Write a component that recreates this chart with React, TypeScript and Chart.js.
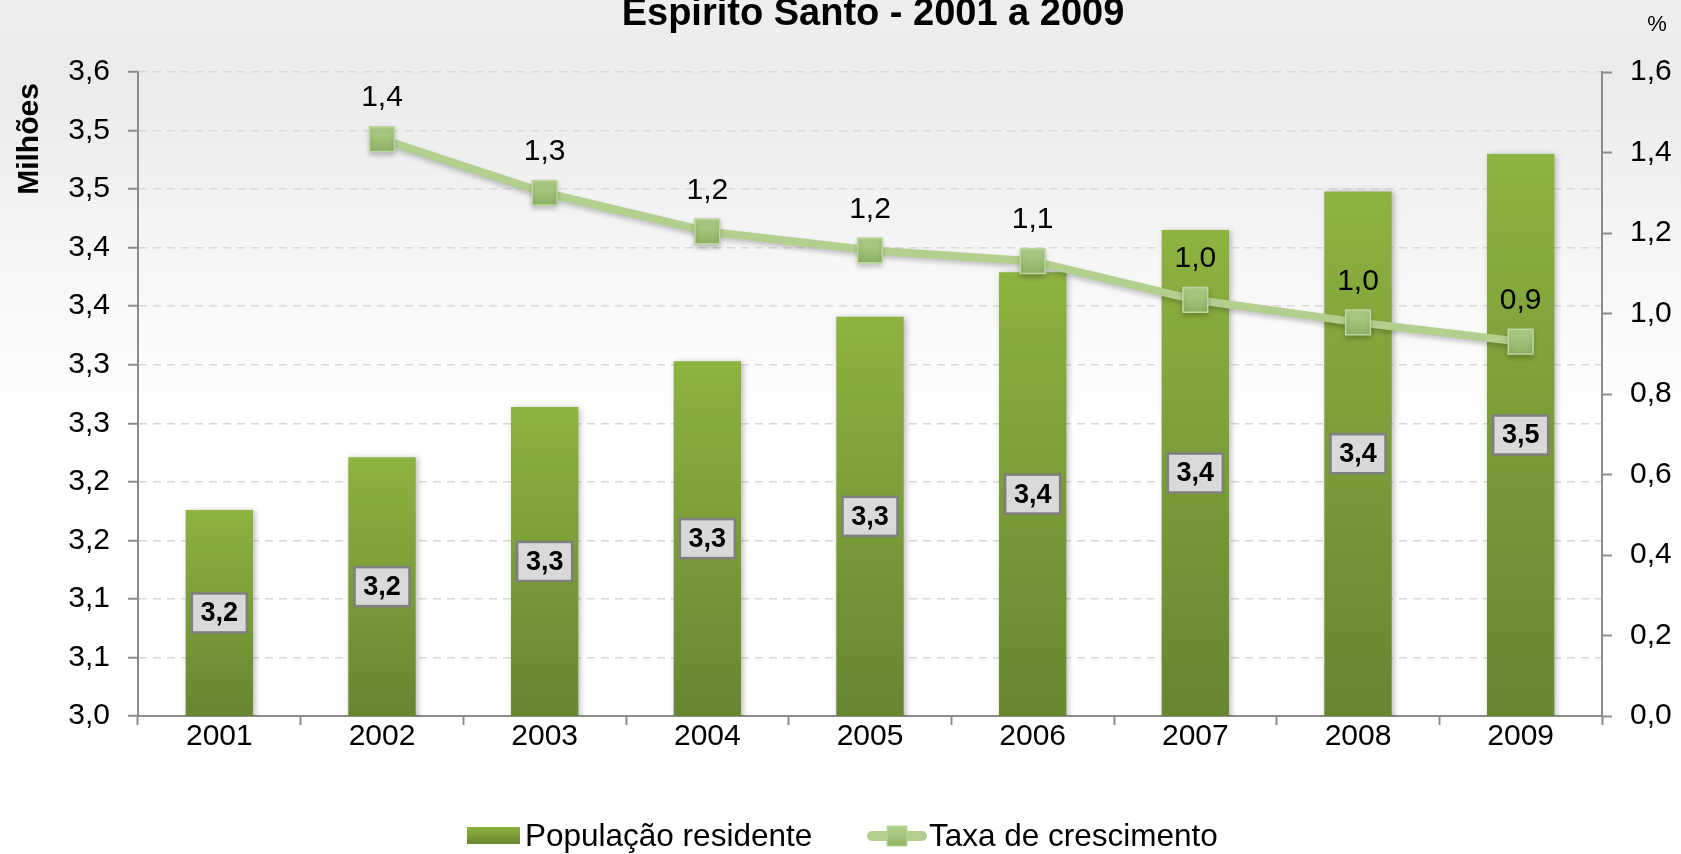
import React, { useEffect, useRef } from "react";
import { Chart, registerables } from "chart.js";

Chart.register(...registerables);

const FONT = '"Liberation Sans", Arial, Helvetica, sans-serif';

const chartTitle = "Espirito Santo - 2001 a 2009";
const leftAxisTitle = "Milhões";
const rightAxisTitle = "%";
const years = ["2001", "2002", "2003", "2004", "2005", "2006", "2007", "2008", "2009"];
const populationLabel = "População residente";
const population = [3.176, 3.221, 3.264, 3.303, 3.341, 3.379, 3.415, 3.448, 3.48];
const growthLabel = "Taxa de crescimento";
const growth: (number | null)[] = [null, 1.433, 1.3, 1.204, 1.157, 1.13, 1.034, 0.978, 0.93];
const leftTickLabels = ["3,0", "3,1", "3,1", "3,2", "3,2", "3,3", "3,3", "3,4", "3,4", "3,5", "3,5", "3,6"];
const rightTickLabels = ["0,0", "0,2", "0,4", "0,6", "0,8", "1,0", "1,2", "1,4", "1,6"];

const fmt = (v: number) => v.toFixed(1).replace(".", ",");

const BAR_TOP = "#8db340";
const BAR_BOTTOM = "#678630";
const LINE_COLOR = "#b3cf8e";
const AXIS_GRAY = "#8c8c8c";

const backgroundPlugin = {
  id: "bgPlugin",
  beforeDraw(chart: any) {
    const { ctx, width, height } = chart;
    ctx.save();
    const g = ctx.createLinearGradient(0, 0, 0, height);
    g.addColorStop(0, "#eeeeee");
    g.addColorStop(0.1, "#ebebeb");
    g.addColorStop(0.3, "#f6f6f6");
    g.addColorStop(0.5, "#ffffff");
    g.addColorStop(1, "#ffffff");
    ctx.fillStyle = g;
    ctx.fillRect(0, 0, width, height);
    ctx.restore();
  },
};

const shadowPlugin = {
  id: "shadowPlugin",
  beforeDatasetDraw(chart: any, args: any) {
    const ctx = chart.ctx;
    ctx.save();
    if (args.meta.type === "bar") {
      ctx.shadowColor = "rgba(0,0,0,0.28)";
      ctx.shadowBlur = 6;
      ctx.shadowOffsetX = 2;
      ctx.shadowOffsetY = 1;
    } else {
      ctx.shadowColor = "rgba(0,0,0,0.22)";
      ctx.shadowBlur = 5;
      ctx.shadowOffsetX = 0;
      ctx.shadowOffsetY = 3;
    }
  },
  afterDatasetDraw(chart: any) {
    chart.ctx.restore();
  },
};

const textPlugin = {
  id: "textPlugin",
  afterDatasetsDraw(chart: any) {
    const { ctx } = chart;
    const yScale = chart.scales.y;
    const xScale = chart.scales.x;
    ctx.save();
    ctx.shadowColor = "rgba(0,0,0,0)";
    // bar labels
    population.forEach((v, i) => {
      const cx = xScale.getPixelForValue(i);
      const top = yScale.getPixelForValue(v);
      const base = yScale.getPixelForValue(yScale.min);
      const cy = (top + base) / 2;
      const w = 55;
      const h = 39;
      ctx.fillStyle = "#d9d9d9";
      ctx.fillRect(cx - w / 2, cy - h / 2, w, h);
      ctx.strokeStyle = "#7f7f7f";
      ctx.lineWidth = 2.5;
      ctx.strokeRect(cx - w / 2, cy - h / 2, w, h);
      ctx.fillStyle = "#000";
      ctx.font = `bold 27px ${FONT}`;
      ctx.textAlign = "center";
      ctx.textBaseline = "middle";
      ctx.fillText(fmt(v), cx, cy + 1);
    });
    // line labels
    const y1 = chart.scales.y1;
    growth.forEach((v, i) => {
      if (v === null || v === undefined) return;
      const x = xScale.getPixelForValue(i);
      const y = y1.getPixelForValue(v);
      ctx.fillStyle = "#000";
      ctx.font = `30px ${FONT}`;
      ctx.textAlign = "center";
      ctx.textBaseline = "middle";
      ctx.fillText(fmt(v), x, y - 41);
    });
    ctx.restore();
  },
  afterDraw(chart: any) {
    const { ctx } = chart;
    ctx.save();
    ctx.fillStyle = "#000";
    // title
    ctx.font = `bold 38px ${FONT}`;
    ctx.textAlign = "center";
    ctx.textBaseline = "alphabetic";
    ctx.fillText(chartTitle, 873, 25);
    // %
    ctx.font = `22px ${FONT}`;
    ctx.fillText(rightAxisTitle, 1657, 31);
    // Milhões
    ctx.save();
    ctx.translate(30, 139);
    ctx.rotate(-Math.PI / 2);
    ctx.font = `bold 30px ${FONT}`;
    ctx.textAlign = "center";
    ctx.textBaseline = "middle";
    ctx.fillText(leftAxisTitle, 0, 0);
    ctx.restore();

    // legend
    const ly = 836;
    const g = ctx.createLinearGradient(0, 827, 0, 844);
    g.addColorStop(0, BAR_TOP);
    g.addColorStop(1, BAR_BOTTOM);
    ctx.fillStyle = g;
    ctx.fillRect(467, 827, 53, 17);
    ctx.fillStyle = "#000";
    ctx.font = `31.5px ${FONT}`;
    ctx.textAlign = "left";
    ctx.textBaseline = "middle";
    ctx.fillText(populationLabel, 525, ly + 1);

    ctx.strokeStyle = LINE_COLOR;
    ctx.lineWidth = 10;
    ctx.lineCap = "round";
    ctx.beginPath();
    ctx.moveTo(872, ly);
    ctx.lineTo(922, ly);
    ctx.stroke();
    const mg = ctx.createLinearGradient(0, 826, 0, 846);
    mg.addColorStop(0, "#b4d48e");
    mg.addColorStop(1, "#8fb367");
    ctx.fillStyle = mg;
    ctx.fillRect(887, 826, 20, 20);
    ctx.strokeStyle = "#bcd8a0";
    ctx.lineWidth = 1;
    ctx.strokeRect(887, 826, 20, 20);
    ctx.fillStyle = "#000";
    ctx.fillText(growthLabel, 929, ly + 1);
    ctx.restore();
  },
};

export default function App() {
  const canvasRef = useRef<HTMLCanvasElement | null>(null);

  useEffect(() => {
    document.body.style.margin = "0";
    const canvas = canvasRef.current;
    if (!canvas) return;

    const barGradient = (c: any) => {
      const chart = c.chart;
      const ca = chart.chartArea;
      if (!ca || c.raw === undefined || c.raw === null) return "#7ba03a";
      const top = chart.scales.y.getPixelForValue(c.raw);
      const g = chart.ctx.createLinearGradient(0, top, 0, ca.bottom);
      g.addColorStop(0, BAR_TOP);
      g.addColorStop(1, BAR_BOTTOM);
      return g;
    };

    const pointGradient = (c: any) => {
      const chart = c.chart;
      const ca = chart.chartArea;
      if (!ca || c.raw === undefined || c.raw === null) return "#a3c57b";
      const y = chart.scales.y1.getPixelForValue(c.raw);
      const g = chart.ctx.createLinearGradient(0, y - 12, 0, y + 12);
      g.addColorStop(0, "#b2d28b");
      g.addColorStop(1, "#8db165");
      return g;
    };

    const chart = new Chart(canvas, {
      data: {
        labels: years,
        datasets: [
          {
            type: "bar",
            label: populationLabel,
            data: population,
            yAxisID: "y",
            backgroundColor: barGradient,
            borderWidth: 0,
            barPercentage: 0.414,
            categoryPercentage: 1,
            order: 2,
          },
          {
            type: "line",
            label: growthLabel,
            data: growth,
            yAxisID: "y1",
            borderColor: LINE_COLOR,
            borderWidth: 8,
            pointStyle: "rect",
            pointRadius: 17.5,
            pointBackgroundColor: pointGradient,
            pointBorderColor: "#bcd8a0",
            pointBorderWidth: 1.5,
            tension: 0,
            spanGaps: false,
            order: 1,
          },
        ] as any,
      },
      options: {
        responsive: false,
        animation: false,
        layout: { padding: { top: 72, left: 0, right: 0, bottom: 0 } },
        plugins: {
          legend: { display: false },
          tooltip: { enabled: false },
          title: { display: false },
        },
        scales: {
          x: {
            offset: true,
            grid: {
              offset: true,
              drawOnChartArea: false,
              drawTicks: true,
              tickLength: 9,
              tickColor: AXIS_GRAY,
              tickWidth: 2,
            },
            border: { display: true, color: AXIS_GRAY, width: 2 },
            ticks: {
              color: "#000",
              font: { family: FONT, size: 30 },
              padding: -6,
              maxRotation: 0,
              autoSkip: false,
            },
            afterFit(s: any) {
              s.height = 138;
            },
          },
          y: {
            position: "left",
            min: 3.0,
            max: 3.55,
            ticks: {
              stepSize: 0.05,
              color: "#000",
              font: { family: FONT, size: 30 },
              padding: 18,
              callback: (_v: any, i: number) => leftTickLabels[i],
            },
            grid: {
              color: (c: any) => (c.index === 0 ? "rgba(0,0,0,0)" : "#d9d9d9"),
              lineWidth: 1.5,
              tickColor: AXIS_GRAY,
              tickLength: 10,
              tickWidth: 2,
            },
            border: { display: true, color: AXIS_GRAY, width: 2, dash: [8, 6] },
            afterFit(s: any) {
              s.width = 138;
            },
          },
          y1: {
            position: "right",
            min: 0,
            max: 1.6,
            ticks: {
              stepSize: 0.2,
              color: "#000",
              font: { family: FONT, size: 30 },
              padding: 18,
              callback: (_v: any, i: number) => rightTickLabels[i],
            },
            grid: {
              drawOnChartArea: false,
              tickColor: AXIS_GRAY,
              tickLength: 10,
              tickWidth: 2,
            },
            border: { display: true, color: AXIS_GRAY, width: 2 },
            afterFit(s: any) {
              s.width = 79;
            },
          },
        },
      } as any,
      plugins: [backgroundPlugin, shadowPlugin, textPlugin],
    });

    return () => chart.destroy();
  }, []);

  return (
    <div style={{ width: 1681, height: 854, overflow: "hidden" }}>
      <canvas ref={canvasRef} width={1681} height={854} style={{ display: "block" }} />
    </div>
  );
}
